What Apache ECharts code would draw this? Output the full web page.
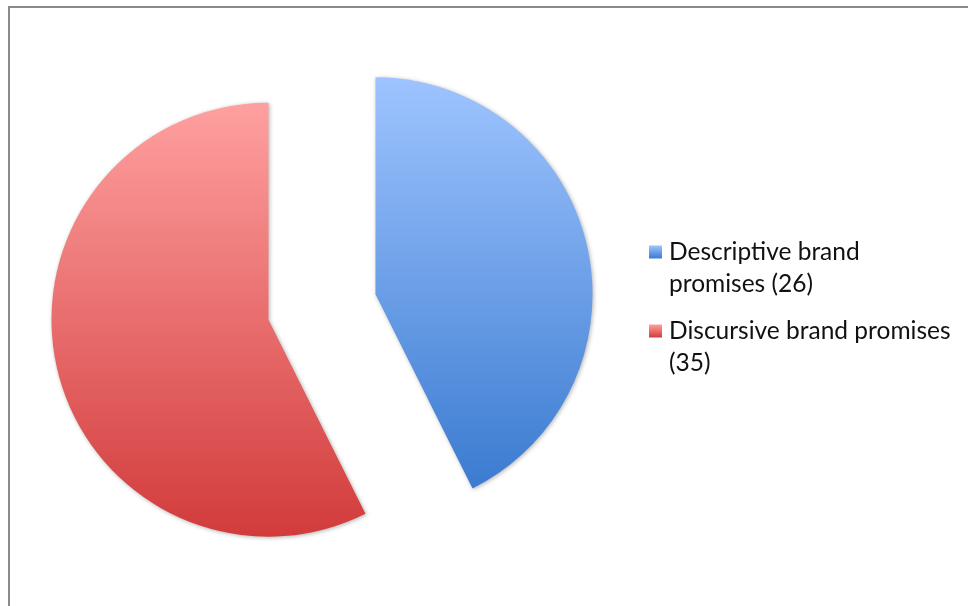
<!DOCTYPE html>
<html>
<head>
<meta charset="utf-8">
<script src="https://cdn.jsdelivr.net/npm/echarts@6/dist/echarts.min.js"></script>
<style>
html,body{margin:0;padding:0;background:#fff;}
#chart{width:968px;height:606px;}
</style>
</head>
<body>
<div id="chart"></div>
<script>
var categories = ['Descriptive brand promises', 'Discursive brand promises'];
var values = [26, 35];
var legendLabels = ['Descriptive brand\npromises (26)', 'Discursive brand promises\n(35)'];
var topColors = ['#9ec4ff', '#ffa0a0'];
var bottomColors = ['#3b7bd0', '#d23b3b'];

function grad(i, endOffset) {
  return new echarts.graphic.LinearGradient(0, 0, 0, 1, [
    { offset: 0, color: topColors[i] },
    { offset: endOffset, color: bottomColors[i] },
    { offset: 1, color: bottomColors[i] }
  ]);
}

var chart = echarts.init(document.getElementById('chart'));
var data = categories.map(function (c, i) {
  return {
    name: c,
    value: values[i],
    selected: true,
    itemStyle: { color: grad(i, 1) }
  };
});

// square marker at top of a tall icon box so it aligns with the first text line
var markerIcon = 'path://M0,0h13v13h-13z M0,44.99h0.01v0.01h-0.01z';

chart.setOption({
  animation: false,
  backgroundColor: '#fff',
  graphic: [{
    type: 'rect',
    shape: { x: 9, y: 7, width: 1100, height: 800 },
    style: { fill: 'none', stroke: '#8a8a8a', lineWidth: 2 },
    silent: true
  }],
  legend: {
    orient: 'vertical',
    left: 649,
    top: 236,
    padding: 0,
    itemWidth: 13,
    itemHeight: 45,
    itemGap: 15,
    selectedMode: false,
    formatter: function (name) {
      return legendLabels[categories.indexOf(name)];
    },
    textStyle: {
      fontFamily: 'Lato',
      fontSize: 24.5,
      lineHeight: 32,
      color: '#111',
      padding: [0, 0, 0, 2]
    },
    data: categories.map(function (c, i) {
      return { name: c, icon: markerIcon, itemStyle: { color: grad(i, 13 / 45) } };
    })
  },
  series: [{
    type: 'pie',
    center: [322, 307],
    radius: 217,
    startAngle: 90,
    clockwise: true,
    selectedMode: 'multiple',
    selectedOffset: 55,
    label: { show: false },
    labelLine: { show: false },
    emphasis: { disabled: true },
    itemStyle: {
      shadowBlur: 4,
      shadowColor: 'rgba(0,0,0,0.3)',
      shadowOffsetX: 1,
      shadowOffsetY: 1
    },
    data: data
  }]
});
</script>
</body>
</html>
